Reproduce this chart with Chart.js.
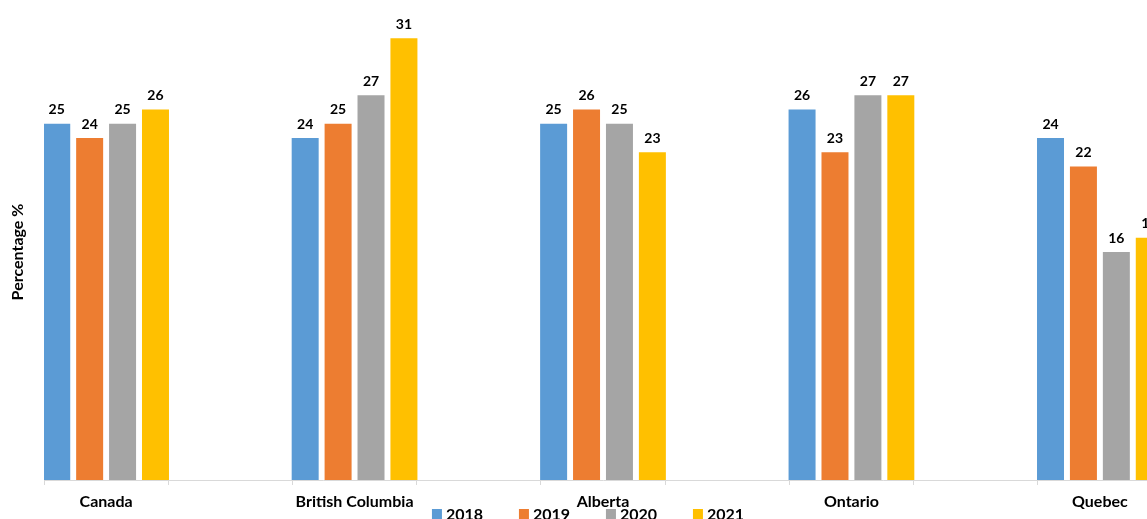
<!DOCTYPE html>
<html>
<head>
<meta charset="utf-8">
<script src="https://cdn.jsdelivr.net/npm/chart.js@4/dist/chart.umd.min.js"></script>
<style>
  html, body { margin: 0; padding: 0; background: #fff; overflow: hidden; }
  #wrap { width: 1176px; height: 519px; }
</style>
</head>
<body>
<div id="wrap"><canvas id="chart" width="1176" height="519"></canvas></div>
<script>
const categories = ["Canada", "British Columbia", "Alberta", "Ontario", "Quebec"];
const years = ["2018", "2019", "2020", "2021"];
const values2018 = [25, 24, 25, 26, 24];
const values2019 = [24, 25, 26, 23, 22];
const values2020 = [25, 27, 25, 27, 16];
const values2021 = [26, 31, 23, 27, 17];
const colors = ["#5B9BD5", "#ED7D31", "#A5A5A5", "#FFC000"];

const FONT = "Lato, 'Liberation Sans', sans-serif";

// empty slots between provinces keep the wide gaps and the tick marks
const spaced = (arr, blank) => arr.flatMap((v, i) => (i ? [blank, v] : [v]));
const labels = spaced(categories, "");

const datasets = [values2018, values2019, values2020, values2021].map((vals, i) => ({
  label: years[i],
  data: spaced(vals, null),
  backgroundColor: colors[i],
  borderWidth: 0,
  categoryPercentage: 1.06,
  barPercentage: 0.82
}));

// value printed above each bar
const valueLabels = {
  id: "valueLabels",
  afterDatasetsDraw(chart) {
    const ctx = chart.ctx;
    ctx.save();
    ctx.font = "bold 14px " + FONT;
    ctx.fillStyle = "#000";
    ctx.textAlign = "center";
    ctx.textBaseline = "bottom";
    chart.data.datasets.forEach((ds, di) => {
      chart.getDatasetMeta(di).data.forEach((bar, i) => {
        const v = ds.data[i];
        if (v == null) return;
        ctx.fillText(String(v), bar.x, bar.y - 7);
      });
    });
    ctx.restore();
  }
};

// legend row along the bottom edge
const bottomLegend = {
  id: "bottomLegend",
  afterDraw(chart) {
    const ctx = chart.ctx;
    const step = 87, box = 10, gap = 4, y = 514;
    ctx.save();
    ctx.font = "bold 16px " + FONT;
    const lastW = ctx.measureText(chart.data.datasets[chart.data.datasets.length - 1].label).width;
    const total = step * (chart.data.datasets.length - 1) + box + gap + lastW;
    let x = chart.width / 2 - total / 2;
    ctx.textBaseline = "middle";
    ctx.textAlign = "left";
    chart.data.datasets.forEach(ds => {
      ctx.fillStyle = ds.backgroundColor;
      ctx.fillRect(x, y - box / 2, box, box);
      ctx.fillStyle = "#000";
      ctx.fillText(ds.label, x + box + gap, y + 1);
      x += step;
    });
    ctx.restore();
  }
};

new Chart(document.getElementById("chart"), {
  type: "bar",
  data: { labels, datasets },
  options: {
    responsive: false,
    animation: false,
    layout: { padding: { top: 24, right: 14, bottom: 8, left: 0 } },
    plugins: {
      legend: { display: false },
      tooltip: { enabled: false }
    },
    scales: {
      x: {
        grid: { display: true, drawOnChartArea: false, tickLength: 5, color: "#d9d9d9", offset: true },
        border: { display: true, color: "#d9d9d9", width: 1 },
        ticks: {
          autoSkip: false,
          maxRotation: 0,
          padding: 7,
          color: "#000",
          font: { family: FONT, size: 16, weight: "bold" }
        },
        afterFit(scale) { scale.height = 31; }
      },
      y: {
        min: 0,
        max: 32,
        grid: { display: false },
        border: { display: false },
        ticks: { display: false },
        title: {
          display: true,
          text: "Percentage %",
          color: "#000",
          padding: { top: 8, bottom: 0 },
          font: { family: FONT, size: 16, weight: "bold" }
        },
        afterFit(scale) { scale.width = 44; }
      }
    }
  },
  plugins: [valueLabels, bottomLegend]
});
</script>
</body>
</html>
